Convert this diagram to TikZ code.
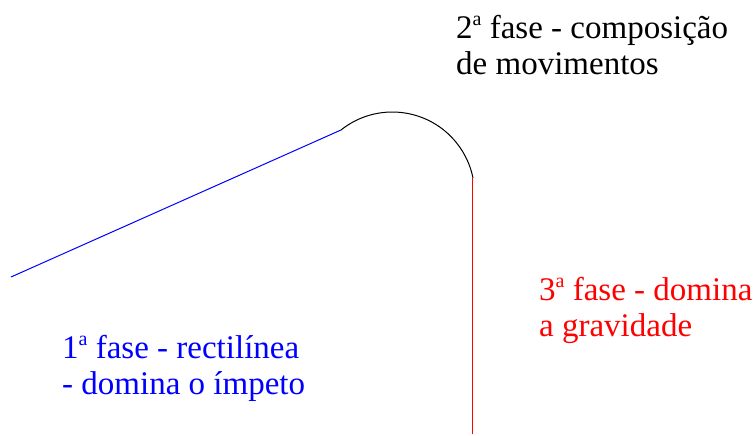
\documentclass[tikz,border=0pt]{standalone}
\usepackage{fontspec}
\setmainfont{Liberation Serif}
\newcommand\ordsup{\raisebox{13.5pt}{\fontsize{20}{20}\selectfont a}}
\tikzset{
  lbl/.style={inner sep=0pt, anchor=base west, align=left, font=\fontsize{33}{36}\selectfont},
  path1/.style={line width=1pt}
}
\begin{document}
\begin{tikzpicture}[x=1pt,y=1pt]
\useasboundingbox (0,0) rectangle (753,436);
\coordinate (a) at (11,159);
\coordinate (b) at (341,306);
\coordinate (c) at (472.5,258);
\coordinate (d) at (472.5,2);
\draw[path1, draw=blue] (a) -- (b);
\draw[path1, draw=black] (b) arc[start angle=128.6, end angle=11.4, radius=82.3];
\draw[path1, draw={rgb,255:red,255;green,0;blue,0}] (c) -- (d);
\node[lbl, text=black] (t2) at (456,361) {2\ordsup{} fase - composição\\de movimentos};
\node[lbl, text=blue] (t1) at (62,41) {1\ordsup{} fase - rectilínea\\- domina o ímpeto};
\node[lbl, text=red] (t3) at (539,99) {3\ordsup{} fase - domina\\a gravidade};
\end{tikzpicture}
\end{document}
